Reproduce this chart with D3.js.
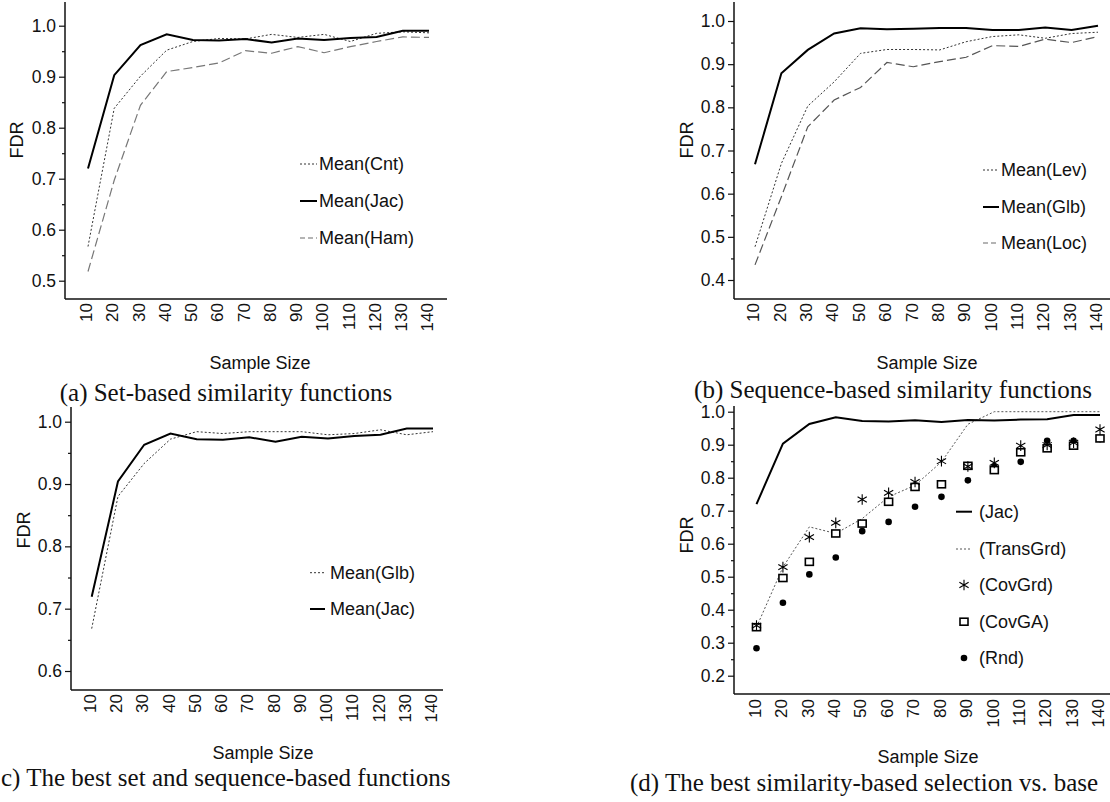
<!DOCTYPE html>
<html>
<head>
<meta charset="utf-8">
<script src="https://cdn.jsdelivr.net/npm/d3@7"></script>
<style>
  body { margin: 0; background: #fff; }
  svg { display: block; }
  .sans { font-family: "Liberation Sans", Arial, sans-serif; fill: #111; }
  .serif { font-family: "Liberation Serif", "Times New Roman", serif; fill: #111; }
</style>
</head>
<body>
<svg id="fig" width="1110" height="802"></svg>
<script>
// sample sizes on the x axis
const sampleSize = [10, 20, 30, 40, 50, 60, 70, 80, 90, 100, 110, 120, 130, 140];

// (a) set-based similarity functions
const setCnt = [0.567, 0.838, 0.901, 0.952, 0.969, 0.975, 0.974, 0.983, 0.977, 0.983, 0.969, 0.985, 0.988, 0.986];
const setJac = [0.720, 0.903, 0.962, 0.983, 0.972, 0.971, 0.974, 0.967, 0.975, 0.972, 0.976, 0.978, 0.990, 0.990];
const setHam = [0.518, 0.697, 0.844, 0.910, 0.918, 0.927, 0.951, 0.946, 0.959, 0.947, 0.959, 0.969, 0.978, 0.977];

// (b) sequence-based similarity functions
const seqLev = [0.477, 0.670, 0.803, 0.859, 0.925, 0.934, 0.934, 0.933, 0.952, 0.964, 0.968, 0.960, 0.971, 0.974];
const seqGlb = [0.668, 0.879, 0.933, 0.971, 0.983, 0.981, 0.982, 0.984, 0.984, 0.979, 0.979, 0.985, 0.979, 0.989];
const seqLoc = [0.435, 0.593, 0.755, 0.817, 0.846, 0.904, 0.894, 0.906, 0.916, 0.943, 0.941, 0.958, 0.950, 0.964];

// (c) best set vs sequence
const bestGlb = [0.668, 0.880, 0.933, 0.972, 0.984, 0.981, 0.984, 0.984, 0.984, 0.979, 0.981, 0.987, 0.979, 0.984];
const bestJac = [0.719, 0.904, 0.963, 0.981, 0.972, 0.971, 0.975, 0.968, 0.976, 0.973, 0.977, 0.979, 0.989, 0.989];

// (d) best similarity-based selection vs baselines
const baseJac      = [0.720, 0.903, 0.963, 0.983, 0.972, 0.970, 0.974, 0.969, 0.975, 0.973, 0.976, 0.977, 0.990, 0.990];
const baseTransGrd = [0.347, 0.529, 0.651, 0.631, 0.676, 0.742, 0.777, 0.848, 0.962, 1.000, 1.000, 1.000, 1.000, 1.000];
const baseCovGrd   = [0.352, 0.529, 0.620, 0.663, 0.734, 0.754, 0.787, 0.850, 0.834, 0.845, 0.897, 0.899, 0.906, 0.946];
const baseCovGA    = [0.347, 0.496, 0.545, 0.631, 0.661, 0.727, 0.772, 0.780, 0.836, 0.823, 0.877, 0.889, 0.897, 0.919];
const baseRnd      = [0.283, 0.421, 0.507, 0.558, 0.638, 0.666, 0.712, 0.742, 0.792, 0.833, 0.848, 0.912, 0.912, 0.917];

const ticksA = [0.5, 0.6, 0.7, 0.8, 0.9, 1.0];
const ticksB = [0.4, 0.5, 0.6, 0.7, 0.8, 0.9, 1.0];
const ticksC = [0.6, 0.7, 0.8, 0.9, 1.0];
const ticksD = [0.2, 0.3, 0.4, 0.5, 0.6, 0.7, 0.8, 0.9, 1.0];

const styles = {
  solid:  { stroke: "#000", width: 2, dash: null },
  dotted: { stroke: "#333", width: 1, dash: "2,2" },
  dashed: { stroke: "#6a6a6a", width: 1.2, dash: "9,4" }
};

const svg = d3.select("#fig");
svg.append("rect").attr("width", 1110).attr("height", 802).attr("fill", "#fff");

function drawPanel(p) {
  const g = svg.append("g");
  const x = d3.scalePoint().domain(sampleSize).range(p.xRange);
  const y = d3.scaleLinear().domain([p.ticks[0], 1.0]).range(p.yRange);

  // axis lines
  g.append("line").attr("x1", p.axisX).attr("x2", p.axisX)
    .attr("y1", p.top).attr("y2", p.bottom)
    .attr("stroke", "#111").attr("stroke-width", 1.5);
  g.append("line").attr("x1", p.axisX).attr("x2", p.right)
    .attr("y1", p.bottom).attr("y2", p.bottom)
    .attr("stroke", "#111").attr("stroke-width", 1.5);

  // y axis
  const yAxis = g.append("g").attr("transform", `translate(${p.axisX},0)`)
    .call(d3.axisLeft(y).tickValues(p.ticks).tickSize(6).tickPadding(3).tickFormat(d3.format(".1f")));
  yAxis.select(".domain").remove();
  yAxis.selectAll("text").attr("class", "sans").style("font-size", "17.5px")
    .attr("font-family", null);
  yAxis.selectAll("line").attr("stroke", "#111").attr("stroke-width", 1.2);

  const minor = p.ticks.slice(0, -1).map(t => t + 0.05);
  const yMinor = g.append("g").attr("transform", `translate(${p.axisX},0)`)
    .call(d3.axisLeft(y).tickValues(minor).tickSize(3).tickFormat(""));
  yMinor.select(".domain").remove();
  yMinor.selectAll("line").attr("stroke", "#111").attr("stroke-width", 1.2);

  // x axis labels, rotated
  const xAxis = g.append("g").attr("transform", `translate(0,${p.bottom})`)
    .call(d3.axisBottom(x).tickSize(0));
  xAxis.select(".domain").remove();
  xAxis.selectAll("text")
    .attr("class", "sans").style("font-size", "17px")
    .attr("transform", "rotate(-90)")
    .attr("x", -p.labPad).attr("y", 0).attr("dy", "0.22em")
    .attr("text-anchor", "end");

  // lines
  p.lines.forEach(s => {
    const st = styles[s.style];
    g.append("path")
      .datum(s.values)
      .attr("fill", "none")
      .attr("stroke", s.color || st.stroke)
      .attr("stroke-width", st.width)
      .attr("stroke-dasharray", st.dash)
      .attr("d", d3.line().x((d, i) => x(sampleSize[i])).y(d => y(d)));
  });

  // point markers
  (p.points || []).forEach(s => {
    const pts = g.append("g");
    s.values.forEach((v, i) => {
      drawMarker(pts, s.marker, x(sampleSize[i]), y(v));
    });
  });

  // legend
  p.legend.forEach((item, i) => {
    const ly = p.legY[i];
    if (item.style) {
      const st = styles[item.style];
      g.append("line").attr("x1", p.legX[0]).attr("x2", p.legX[1])
        .attr("y1", ly).attr("y2", ly)
        .attr("stroke", item.color || st.stroke).attr("stroke-width", st.width)
        .attr("stroke-dasharray", item.style === "dashed" ? "5,3" : st.dash);
    } else {
      drawMarker(g, item.marker, (p.legX[0] + p.legX[1]) / 2, ly);
    }
    g.append("text").attr("class", "sans").style("font-size", "18px")
      .attr("x", p.legText).attr("y", ly).attr("dy", "0.36em")
      .text(item.label);
  });

  // axis titles
  g.append("text").attr("class", "sans").style("font-size", "18px")
    .attr("text-anchor", "middle")
    .attr("x", p.xTitle[0]).attr("y", p.xTitle[1]).attr("dy", "0.36em")
    .text("Sample Size");
  g.append("text").attr("class", "sans").style("font-size", "18px")
    .attr("text-anchor", "middle")
    .attr("transform", `translate(${p.yTitle[0]},${p.yTitle[1]}) rotate(-90)`)
    .attr("dy", "0.36em")
    .text("FDR");

  // caption
  g.append("text").attr("class", "serif").style("font-size", "25px")
    .attr("text-anchor", p.capAnchor)
    .attr("x", p.caption[0]).attr("y", p.caption[1]).attr("dy", "0.33em")
    .text(p.capText);
}

function drawMarker(g, kind, cx, cy) {
  if (kind === "star") {
    g.append("path").attr("transform", `translate(${cx},${cy})`)
      .attr("d", d3.symbol(d3.symbolAsterisk, 80)())
      .attr("fill", "none").attr("stroke", "#000").attr("stroke-width", 1.1);
  } else if (kind === "square") {
    g.append("rect").attr("x", cx - 4).attr("y", cy - 3.5)
      .attr("width", 8).attr("height", 7)
      .attr("fill", "#fff").attr("stroke", "#000").attr("stroke-width", 1.6);
  } else {
    g.append("circle").attr("cx", cx).attr("cy", cy).attr("r", 3.3).attr("fill", "#000");
  }
}

drawPanel({
  ticks: ticksA, yRange: [280.7, 25.7], top: 2, bottom: 299,
  axisX: 65, xRange: [88, 429], right: 447, labPad: 4,
  lines: [
    { values: setCnt, style: "dotted" },
    { values: setHam, style: "dashed", color: "#777" },
    { values: setJac, style: "solid" }
  ],
  legend: [
    { label: "Mean(Cnt)", style: "dotted" },
    { label: "Mean(Jac)", style: "solid" },
    { label: "Mean(Ham)", style: "dashed" }
  ],
  legX: [300, 317], legText: 319, legY: [164, 201, 238],
  xTitle: [260, 363], yTitle: [17, 140],
  caption: [226, 393], capAnchor: "middle", capText: "(a) Set-based similarity functions"
});

drawPanel({
  ticks: ticksB, yRange: [280, 21], top: 2, bottom: 299,
  axisX: 734, xRange: [755, 1098], right: 1110, labPad: 4,
  lines: [
    { values: seqLev, style: "dotted" },
    { values: seqLoc, style: "dashed", color: "#555" },
    { values: seqGlb, style: "solid" }
  ],
  legend: [
    { label: "Mean(Lev)", style: "dotted" },
    { label: "Mean(Glb)", style: "solid" },
    { label: "Mean(Loc)", style: "dashed" }
  ],
  legX: [983, 999], legText: 1001, legY: [170, 207, 243],
  xTitle: [927, 363], yTitle: [687, 140],
  caption: [893, 390], capAnchor: "middle", capText: "(b) Sequence-based similarity functions"
});

drawPanel({
  ticks: ticksC, yRange: [671, 421.7], top: 407, bottom: 690,
  axisX: 71, xRange: [91.7, 433], right: 443, labPad: 4,
  lines: [
    { values: bestGlb, style: "dotted" },
    { values: bestJac, style: "solid" }
  ],
  legend: [
    { label: "Mean(Glb)", style: "dotted" },
    { label: "Mean(Jac)", style: "solid" }
  ],
  legX: [310, 325], legText: 330, legY: [572.7, 609],
  xTitle: [263, 753], yTitle: [24, 530],
  caption: [1, 778], capAnchor: "start", capText: "c) The best set and sequence-based functions"
});

drawPanel({
  ticks: ticksD, yRange: [675.7, 411.7], top: 406, bottom: 694,
  axisX: 734, xRange: [756.5, 1100], right: 1110, labPad: 5,
  lines: [
    { values: baseTransGrd, style: "dotted", color: "#555" },
    { values: baseJac, style: "solid" }
  ],
  points: [
    { values: baseRnd, marker: "dot" },
    { values: baseCovGA, marker: "square" },
    { values: baseCovGrd, marker: "star" }
  ],
  legend: [
    { label: "(Jac)", style: "solid" },
    { label: "(TransGrd)", style: "dotted", color: "#555" },
    { label: "(CovGrd)", marker: "star" },
    { label: "(CovGA)", marker: "square" },
    { label: "(Rnd)", marker: "dot" }
  ],
  legX: [956, 972], legText: 979, legY: [511.7, 549, 585, 621.7, 658],
  xTitle: [928, 757], yTitle: [687, 535],
  caption: [630, 783], capAnchor: "start", capText: "(d) The best similarity-based selection vs. base"
});
</script>
</body>
</html>
